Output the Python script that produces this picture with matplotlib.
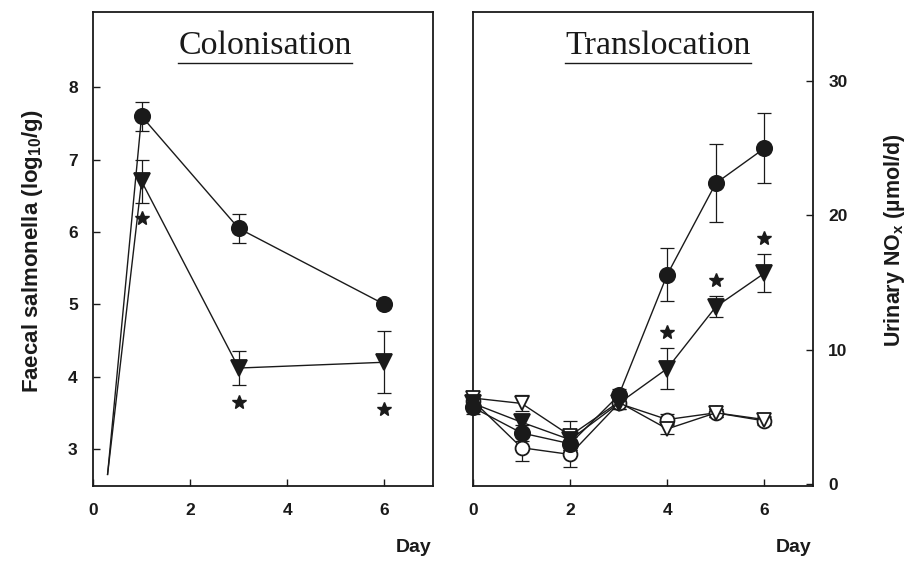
import numpy as np
import matplotlib
matplotlib.use("Agg")
import matplotlib.pyplot as plt
from matplotlib.lines import Line2D

plt.rcParams["mathtext.default"] = "regular"

# colonisation panel (faecal salmonella, log10/g)
col_days = [0.3, 1, 3, 6]
col_ctrl = [2.65, 7.6, 6.05, 5.0]
col_ctrl_err = [np.nan, 0.2, 0.2, 0.05]
col_treat = [2.65, 6.7, 4.12, 4.2]
col_treat_err = [np.nan, 0.3, 0.23, 0.43]
col_star_days = [1, 3, 6]
col_star_vals = [6.2, 3.65, 3.55]

# translocation panel (urinary NOx, umol/d)
tr_days = [0, 1, 2, 3, 4, 5, 6]
tr_inf = [5.7, 3.8, 3.0, 6.6, 15.6, 22.4, 25.0]
tr_inf_err = [0.5, 0.6, 0.5, 0.5, 2.0, 2.9, 2.6]
tr_inf_tr = [6.0, 4.6, 3.3, 6.0, 8.6, 13.2, 15.7]
tr_inf_tr_err = [0.4, 0.6, 0.5, 0.4, 1.5, 0.8, 1.4]
tr_ctrl = [6.2, 2.7, 2.2, 6.0, 4.8, 5.3, 4.7]
tr_ctrl_err = [0.4, 1.0, 0.9, 0.4, 0.4, 0.3, 0.3]
tr_ctrl_tr = [6.4, 6.0, 3.6, 6.1, 4.1, 5.3, 4.8]
tr_ctrl_tr_err = [0.3, 0.6, 1.1, 0.3, 0.4, 0.3, 0.3]
tr_star_days = [4, 5, 6]
tr_star_vals = [11.3, 15.2, 18.3]

ink = "#1a1a1a"
sans = "Liberation Sans"
serif = "Liberation Serif"

fig = plt.figure(figsize=(9.07, 5.67), dpi=100)
ax1 = fig.add_axes([93 / 907, 81 / 567, 340 / 907, 474 / 567])
ax2 = fig.add_axes([473 / 907, 81 / 567, 340 / 907, 474 / 567])


def series(ax, x, y, err, marker, filled, ms=11, mark_from=0):
    ax.errorbar(x, y, yerr=err, fmt="none", ecolor=ink, elinewidth=0.9,
                capsize=5, capthick=0.9, zorder=2, clip_on=False)
    ax.plot(x, y, color=ink, lw=1.0, marker=marker, ms=ms,
            markevery=list(range(mark_from, len(x))),
            mfc=ink if filled else "white", mec=ink, mew=1.3,
            zorder=3, clip_on=False)


# left panel
series(ax1, col_days, col_ctrl, col_ctrl_err, "o", True, mark_from=1)
series(ax1, col_days, col_treat, col_treat_err, "v", True, mark_from=1)
ax1.plot(col_star_days, col_star_vals, ls="none", marker="*", ms=10,
         color=ink, zorder=4)
ax1.set_xlim(0, 7)
ax1.set_ylim(2.49, 9.04)
ax1.set_xticks([0, 2, 4, 6])
ax1.set_yticks([3, 4, 5, 6, 7, 8])
ax1.set_ylabel("Faecal salmonella (log$_{10}$/g)", fontsize=16,
               fontweight="bold", family=sans, color=ink)
ax1.yaxis.set_label_coords(-0.141, 0.496)

# right panel
series(ax2, tr_days, tr_ctrl, tr_ctrl_err, "o", False, ms=10)
series(ax2, tr_days, tr_ctrl_tr, tr_ctrl_tr_err, "v", False, ms=10)
series(ax2, tr_days, tr_inf_tr, tr_inf_tr_err, "v", True)
series(ax2, tr_days, tr_inf, tr_inf_err, "o", True)
ax2.plot(tr_star_days, tr_star_vals, ls="none", marker="*", ms=10,
         color=ink, zorder=4)
ax2.set_xlim(0, 7)
ax2.set_ylim(-0.15, 35.15)
ax2.set_xticks([0, 2, 4, 6])
ax2.set_yticks([0, 10, 20, 30])
ax2.yaxis.tick_right()
ax2.yaxis.set_label_position("right")
ax2.set_ylabel("Urinary NO$_x$ (µmol/d)", fontsize=15.5, fontweight="bold",
               family=sans, color=ink)
ax2.yaxis.set_label_coords(1.203, 0.519)

for ax in (ax1, ax2):
    for s in ax.spines.values():
        s.set_linewidth(1.3)
        s.set_color(ink)
    ax.tick_params(direction="in", length=5, width=1.0, color=ink,
                   labelsize=12.5, labelcolor=ink)
    ax.tick_params(axis="x", pad=12)
    ax.tick_params(axis="y", pad=11)
    for lab in ax.get_xticklabels() + ax.get_yticklabels():
        lab.set_fontfamily(sans)
        lab.set_fontweight("bold")
    ax.text(0.995, -0.129, "Day", transform=ax.transAxes, ha="right",
            va="center", fontsize=14, fontweight="bold", family=sans,
            color=ink)

t1 = ax1.text(0.506, 0.928, "Colonisation", transform=ax1.transAxes,
              ha="center", va="center", fontsize=24.5, family=serif, color=ink)
t2 = ax2.text(0.544, 0.928, "Translocation", transform=ax2.transAxes,
              ha="center", va="center", fontsize=24.5, family=serif, color=ink)

# underline the panel titles
fig.canvas.draw()
r = fig.canvas.get_renderer()
for t in (t1, t2):
    bb = t.get_window_extent(renderer=r).transformed(fig.transFigure.inverted())
    y = bb.y0 - 1.5 / 567
    fig.add_artist(Line2D([bb.x0, bb.x1], [y, y], transform=fig.transFigure,
                          color=ink, lw=1.0))

fig.savefig("out.png", dpi=100, facecolor="white")
